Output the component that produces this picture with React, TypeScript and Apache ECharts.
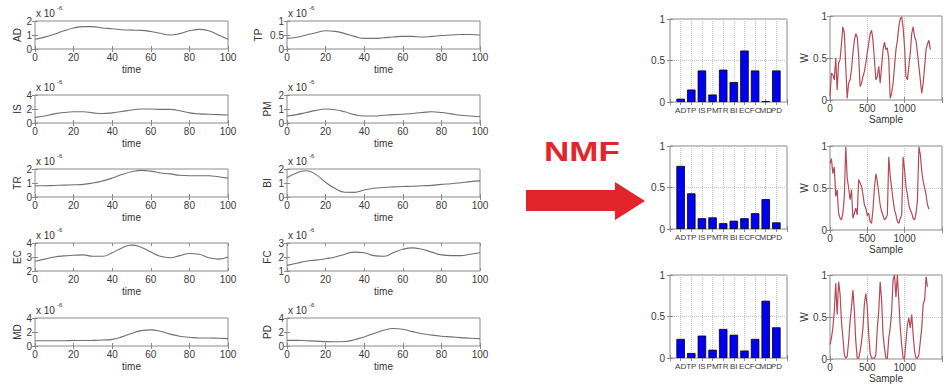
import React, { useEffect, useRef } from 'react';
import * as echarts from 'echarts';

// ---------- data ----------
const TIME = [0, 5, 10, 15, 20, 25, 30, 35, 40, 45, 50, 55, 60, 65, 70, 75, 80, 85, 90, 95, 100];

// concentration traces (units of 1e-6)
const AD = [0.7, 0.85, 1.05, 1.3, 1.5, 1.6, 1.6, 1.5, 1.45, 1.38, 1.35, 1.33, 1.25, 1.12, 1.0, 1.1, 1.3, 1.4, 1.3, 1.0, 0.7];
const IS = [0.8, 1.0, 1.3, 1.5, 1.6, 1.6, 1.45, 1.35, 1.45, 1.65, 1.85, 2.0, 2.0, 1.95, 1.95, 1.75, 1.45, 1.3, 1.25, 1.2, 1.15];
const TR = [0.8, 0.8, 0.82, 0.85, 0.87, 0.9, 1.0, 1.15, 1.35, 1.6, 1.8, 1.9, 1.85, 1.72, 1.65, 1.55, 1.52, 1.52, 1.52, 1.45, 1.35];
const EC = [2.7, 2.85, 3.0, 3.08, 3.12, 3.15, 3.05, 3.05, 3.3, 3.65, 3.85, 3.7, 3.35, 3.05, 2.95, 3.1, 3.25, 3.2, 2.95, 2.85, 3.0];
const MD = [0.75, 0.75, 0.75, 0.75, 0.78, 0.78, 0.8, 0.85, 0.95, 1.3, 1.8, 2.2, 2.3, 2.1, 1.7, 1.4, 1.25, 1.15, 1.15, 1.1, 1.05];
const TP = [0.38, 0.42, 0.5, 0.58, 0.65, 0.63, 0.55, 0.45, 0.38, 0.38, 0.4, 0.43, 0.45, 0.45, 0.43, 0.45, 0.48, 0.5, 0.52, 0.52, 0.5];
const PM = [0.5, 0.6, 0.75, 0.9, 1.0, 0.95, 0.8, 0.6, 0.5, 0.5, 0.55, 0.6, 0.62, 0.68, 0.75, 0.8, 0.75, 0.65, 0.55, 0.5, 0.45];
const BI = [1.38, 1.72, 1.88, 1.6, 1.05, 0.6, 0.34, 0.33, 0.5, 0.62, 0.68, 0.72, 0.75, 0.77, 0.8, 0.83, 0.9, 0.95, 1.02, 1.1, 1.15];
const FC = [1.4, 1.55, 1.7, 1.78, 1.88, 2.0, 2.2, 2.35, 2.3, 2.1, 2.05, 2.3, 2.55, 2.65, 2.55, 2.35, 2.15, 2.1, 2.1, 2.2, 2.3];
const PD = [0.8, 0.8, 0.75, 0.7, 0.62, 0.6, 0.65, 0.9, 1.3, 1.8, 2.25, 2.5, 2.4, 2.05, 1.75, 1.55, 1.4, 1.3, 1.2, 1.1, 1.05];

const LEFT_NAMES = ['AD', 'IS', 'TR', 'EC', 'MD'];
const LEFT_DATA = [AD, IS, TR, EC, MD];
const LEFT_MIN = [0, 0, 0, 2, 0];
const LEFT_MAX = [2, 4, 2, 4, 4];
const LEFT_STEP = [1, 2, 1, 1, 2];

const RIGHT_NAMES = ['TP', 'PM', 'BI', 'FC', 'PD'];
const RIGHT_DATA = [TP, PM, BI, FC, PD];
const RIGHT_MIN = [0, 0, 0, 1, 0];
const RIGHT_MAX = [1, 2, 2, 3, 4];
const RIGHT_STEP = [0.5, 1, 1, 1, 2];

// NMF basis (H) bars
const BAR_LABELS = ['AD', 'TP', 'IS', 'PM', 'TR', 'BI', 'EC', 'FC', 'MD', 'PD'];
const H1 = [0.04, 0.15, 0.38, 0.09, 0.39, 0.24, 0.62, 0.38, 0.01, 0.38];
const H2 = [0.76, 0.43, 0.13, 0.14, 0.07, 0.1, 0.13, 0.19, 0.36, 0.08];
const H3 = [0.23, 0.06, 0.27, 0.1, 0.35, 0.28, 0.09, 0.23, 0.69, 0.37];

// activation (W) traces, one value every W_STEP samples
const W_STEP = 19.2;
const W1 = [0.04, 0.32, 0.3, 0.24, 0.5, 0.12, 0.44, 0.48, 0.67, 0.87, 0.8, 0.4, 0.02, 0.2, 0.24, 0.36, 0.56, 0.71, 0.79, 0.75, 0.52, 0.16, 0.2, 0.28, 0.34, 0.44, 0.56, 0.67, 0.79, 0.83, 0.71, 0.48, 0.24, 0.28, 0.4, 0.2, 0.4, 0.6, 0.69, 0.6, 0.62, 0.48, 0.02, 0.08, 0.2, 0.4, 0.6, 0.71, 0.87, 0.97, 0.99, 0.87, 0.63, 0.28, 0.24, 0.4, 0.56, 0.79, 0.87, 0.75, 0.71, 0.56, 0.4, 0.24, 0.08, 0.2, 0.4, 0.6, 0.67, 0.71, 0.6];
const W2 = [0.79, 0.85, 0.67, 0.75, 0.4, 0.48, 0.2, 0.14, 0.12, 0.2, 0.4, 0.99, 0.62, 0.5, 0.36, 0.48, 0.14, 0.2, 0.26, 0.18, 0.6, 0.56, 0.52, 0.42, 0.3, 0.26, 0.17, 0.2, 0.1, 0.08, 0.25, 0.5, 0.67, 0.58, 0.44, 0.3, 0.22, 0.17, 0.12, 0.14, 0.18, 0.87, 0.65, 0.5, 0.36, 0.24, 0.18, 0.1, 0.08, 0.14, 0.18, 0.87, 0.72, 0.52, 0.42, 0.3, 0.24, 0.2, 0.14, 0.12, 0.2, 0.35, 0.99, 0.9, 0.7, 0.58, 0.5, 0.42, 0.3, 0.25];
const W3 = [0.17, 0.25, 0.37, 0.57, 0.9, 0.53, 0.92, 0.78, 0.45, 0.25, 0.05, 0.01, 0.03, 0.21, 0.45, 0.62, 0.82, 0.57, 0.21, 0.01, 0.01, 0.09, 0.21, 0.37, 0.66, 0.78, 0.62, 0.29, 0.07, 0.01, 0.01, 0.01, 0.05, 0.37, 0.57, 0.92, 0.7, 0.29, 0.13, 0.01, 0.01, 0.25, 0.37, 0.57, 0.94, 1.0, 0.74, 1.0, 0.7, 0.37, 0.17, 0.01, 0.01, 0.21, 0.41, 0.49, 0.37, 0.53, 0.29, 0.09, 0.01, 0.01, 0.05, 0.21, 0.37, 0.66, 0.7, 0.98, 0.86];

const FONT = '"Liberation Sans", Arial, Helvetica, sans-serif';

export default function App() {
  const ref = useRef<HTMLDivElement>(null);

  useEffect(() => {
    document.body.style.margin = '0';
    const chart = echarts.init(ref.current as HTMLDivElement, null, { renderer: 'svg' });

    const grid: any[] = [];
    const xAxis: any[] = [];
    const yAxis: any[] = [];
    const series: any[] = [];
    const graphic: any[] = [];

    const tick = { show: true, inside: true, length: 3, lineStyle: { color: '#8a8a8a', width: 1 } };
    const dotted = { show: true, lineStyle: { color: '#c4c4c4', type: 'dotted', width: 1 } };

    // adds a boxed grid with mirrored ticks; returns [xIndex, yIndex]
    const addBox = (box: any, xa: any, ya: any) => {
      const gi = grid.length;
      grid.push({ ...box, show: true, borderColor: '#8a8a8a', borderWidth: 1, backgroundColor: 'transparent', containLabel: false });
      const xi = xAxis.length;
      xAxis.push({
        type: 'value', gridIndex: gi, position: 'bottom', axisLine: { show: false }, axisTick: tick,
        axisLabel: { color: '#3a3a3a', fontSize: 10, margin: 3, fontFamily: FONT },
        nameTextStyle: { color: '#333', fontSize: 10, fontFamily: FONT }, nameLocation: 'middle',
        splitLine: { show: false }, ...xa,
      });
      xAxis.push({
        type: 'value', gridIndex: gi, position: 'top', min: xa.min, max: xa.max, interval: xa.interval,
        axisLine: { show: false }, axisTick: tick, axisLabel: { show: false }, splitLine: { show: false },
      });
      const yi = yAxis.length;
      yAxis.push({
        type: 'value', gridIndex: gi, position: 'left', axisLine: { show: false }, axisTick: tick,
        axisLabel: { color: '#3a3a3a', fontSize: 10, margin: 3, fontFamily: FONT },
        nameTextStyle: { color: '#333', fontSize: 10, fontFamily: FONT }, nameLocation: 'middle', nameRotate: 90,
        splitLine: { show: false }, ...ya,
      });
      yAxis.push({
        type: 'value', gridIndex: gi, position: 'right', min: ya.min, max: ya.max, interval: ya.interval,
        axisLine: { show: false }, axisTick: tick, axisLabel: { show: false }, splitLine: { show: false },
      });
      return [xi, yi];
    };

    // ---- left block: 10 time-series panels ----
    const TOPS = [21, 95, 169, 243, 318];
    const PH = 28;
    const PW = 193;
    const cols = [
      { left: 35, names: LEFT_NAMES, data: LEFT_DATA, min: LEFT_MIN, max: LEFT_MAX, step: LEFT_STEP, gaps: [13, 13, 13, 13, 13] },
      { left: 287, names: RIGHT_NAMES, data: RIGHT_DATA, min: RIGHT_MIN, max: RIGHT_MAX, step: RIGHT_STEP, gaps: [24, 15, 15, 15, 15] },
    ];
    cols.forEach((c) => {
      c.names.forEach((nm, r) => {
        const [xi, yi] = addBox(
          { left: c.left, top: TOPS[r], width: PW, height: PH },
          { min: 0, max: 100, interval: 20, name: 'time', nameGap: 15 },
          { min: c.min[r], max: c.max[r], interval: c.step[r], name: nm, nameGap: c.gaps[r] },
        );
        series.push({
          type: 'line', xAxisIndex: xi, yAxisIndex: yi, smooth: true, showSymbol: false, silent: true,
          lineStyle: { color: '#707070', width: 1.1 },
          data: TIME.map((t, k) => [t, c.data[r][k]]),
        });
        graphic.push({
          type: 'text', x: c.left + 1, y: TOPS[r] - 8, silent: true,
          style: { text: 'x 10', fontSize: 10, fontFamily: FONT, fill: '#333', verticalAlign: 'middle', align: 'left' },
        });
        graphic.push({
          type: 'text', x: c.left + 22, y: TOPS[r] - 13, silent: true,
          style: { text: '-6', fontSize: 6, fontFamily: FONT, fill: '#333', verticalAlign: 'middle', align: 'left' },
        });
      });
    });

    // ---- NMF arrow ----
    graphic.push({
      type: 'text', x: 544, y: 151, scaleX: 1.25, silent: true,
      style: { text: 'NMF', fontSize: 28, fontWeight: 'bold', fontFamily: FONT, fill: '#e3242b', verticalAlign: 'middle', align: 'left' },
    });
    graphic.push({
      type: 'polygon', silent: true,
      shape: { points: [[526, 190], [615, 190], [615, 182], [645, 201], [615, 220], [615, 211], [526, 211]] },
      style: { fill: '#e3242b' },
    });

    // ---- H bar charts ----
    const BTOPS = [19, 146, 275];
    const BARS = [H1, H2, H3];
    BARS.forEach((h, i) => {
      const [xi, yi] = addBox(
        { left: 670, top: BTOPS[i], width: 117, height: 83 },
        {
          min: 0, max: 11, interval: 1, splitLine: dotted,
          axisLabel: {
            color: '#3a3a3a', fontSize: 8, margin: 4, fontFamily: FONT, hideOverlap: false,
            formatter: (v: number) => BAR_LABELS[Math.round(v) - 1] ?? '',
          },
        },
        { min: 0, max: 1, interval: 0.5, splitLine: dotted, axisLabel: { color: '#3a3a3a', fontSize: 10, margin: 5, fontFamily: FONT } },
      );
      series.push({
        type: 'bar', xAxisIndex: xi, yAxisIndex: yi, barWidth: 8.5, silent: true,
        itemStyle: { color: '#0000f5', borderColor: '#000', borderWidth: 0.8 },
        data: BAR_LABELS.map((_, k) => [k + 1, h[k]]),
      });
    });

    // ---- W activation charts ----
    const WTOPS = [16, 146, 275];
    const WS = [W1, W2, W3];
    WS.forEach((w, i) => {
      const [xi, yi] = addBox(
        { left: 830, top: WTOPS[i], right: -11, height: 84 },
        {
          min: 0, max: 1500, interval: 500, splitLine: dotted, name: 'Sample', nameGap: 14,
          axisLabel: { color: '#3a3a3a', fontSize: 10, margin: 3, fontFamily: FONT, formatter: (v: number) => (v >= 1500 ? '' : String(v)) },
        },
        { min: 0, max: 1, interval: 0.5, splitLine: dotted, name: 'W', nameGap: 17, axisLabel: { color: '#3a3a3a', fontSize: 10, margin: 3, fontFamily: FONT } },
      );
      series.push({
        type: 'line', xAxisIndex: xi, yAxisIndex: yi, showSymbol: false, silent: true,
        lineStyle: { color: '#b54a56', width: 1.2 },
        data: w.map((v, k) => [k * W_STEP, v]),
      });
    });

    chart.setOption({
      animation: false,
      textStyle: { fontFamily: FONT },
      grid, xAxis, yAxis, series, graphic,
    });

    return () => chart.dispose();
  }, []);

  return <div ref={ref} style={{ width: 945, height: 387, background: '#fff' }} />;
}
